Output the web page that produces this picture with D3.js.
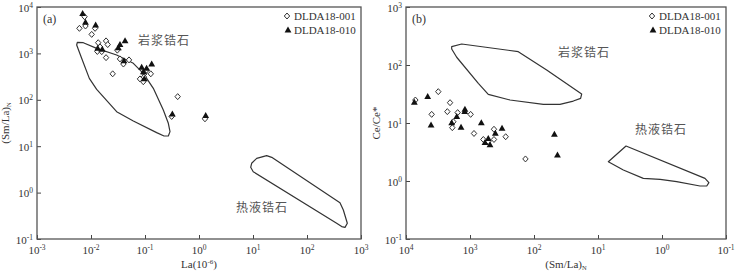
<!DOCTYPE html>
<html>
<head>
<meta charset="utf-8">
<script src="https://cdn.jsdelivr.net/npm/d3@7"></script>
<style>
  body { margin: 0; background: #fff; }
  svg { display: block; }
  text { font-family: "Liberation Serif", "DejaVu Serif", serif; fill: #333; }
  .cjk { font-family: "Noto Sans CJK SC", sans-serif; fill: #555; }
</style>
</head>
<body>
<script>
// ---- panel (a): La vs (Sm/La)N ----
var aSample001 = [[0.0061,3470],[0.0076,6170],[0.0079,3890],[0.0103,2570],[0.0119,3470],
  [0.0136,1700],[0.0147,1380],[0.0131,1100],[0.0158,1090],[0.019,1860],[0.0204,1550],
  [0.019,810],[0.0252,363],[0.0307,1175],[0.0344,760],[0.0398,590],[0.0506,724],
  [0.0807,282],[0.093,245],[0.097,363],[0.107,437],[0.128,363],[0.0955,309],
  [0.403,117],[0.312,43.7],[1.29,38.9]];
var aSample010 = [[0.0070,7240],[0.0079,4680],[0.0122,4070],[0.0133,1290],[0.0162,1230],
  [0.0321,1320],[0.0344,1550],[0.0427,1860],[0.0408,690],[0.0867,500],[0.0933,400],
  [0.107,479],[0.133,590],[0.097,282],[0.321,49],[1.33,45.7]];
var aMagmatic = [[0.00558,1734],[0.00721,1702],[0.01274,1285],[0.02985,925],[0.0608,611],
  [0.0931,372],[0.1426,177],[0.2183,60.3],[0.2704,31.1],[0.2904,20.6],[0.2704,16.6],
  [0.2249,16.6],[0.1644,19.6],[0.0608,34.9],[0.02985,55.5],[0.01274,168],[0.00931,290],
  [0.00671,783],[0.00543,1517]];
var aHydro = [[9.44,4.28],[11.7,5.48],[17.9,6.25],[22.2,5.75],[408,0.607],[471,0.422],
  [558,0.218],[506,0.178],[439,0.185],[354,0.218],[10.1,2.82],[9.06,3.51]];
var aXTicks = [1e-3,1e-2,1e-1,1e0,1e1,1e2,1e3];
var aXExp = ["-3","-2","-1","0","1","2","3"];
var aYTicks = [1e-1,1e0,1e1,1e2,1e3,1e4];
var aYExp = ["-1","0","1","2","3","4"];

// ---- panel (b): (Sm/La)N vs Ce/Ce* ----
var bSample001 = [[7140,24.9],[3970,14.1],[3130,34.7],[2260,15.7],[2050,22.4],[1890,8.3],
  [1820,10.5],[1560,15.1],[977,14.1],[866,6.6],[619,5.2],[518,4.8],[422,7.8],[422,5.2],
  [277,5.8],[136,2.4]];
var bSample010 = [[7410,22.7],[4580,28.4],[4060,9.2],[1930,10.1],[1610,12.9],[1380,8.4],
  [1200,17.2],[1210,15.8],[665,10.1],[583,4.6],[518,5.4],[487,4.2],[402,6.6],[316,8.1],
  [48,6.4],[43,2.8]];
var bMagmatic = [[1932,207],[1349,230],[176,170],[63.4,82],[18.0,31.6],[18.7,26.6],
  [24.3,23.9],[39.3,21.0],[71.4,21.0],[237,24.9],[518,31.2],[741,48.3],[1614,136],[1932,189]];
var bHydro = [[6.90,2.15],[3.65,4.01],[0.213,1.11],[0.185,0.936],[0.200,0.820],[0.255,0.820],
  [0.590,0.973],[1.07,1.07],[1.96,1.11],[4.02,1.55]];
var bXTicks = [1e4,1e3,1e2,1e1,1e0,1e-1];
var bXExp = ["4","3","2","1","0","-1"];
var bYTicks = [1e-1,1e0,1e1,1e2,1e3];
var bYExp = ["-1","0","1","2","3"];

var legendNames = ["DLDA18-001","DLDA18-010"];

var svg = d3.select("body").append("svg").attr("width",740).attr("height",276);

var diamond = "M0,-3 L2.7,0 L0,3 L-2.7,0Z";
var triangle = "M0,-3.6 L3.4,2.4 L-3.4,2.4Z";

function drawPanel(p)
{
  var g = svg.append("g");
  var x = d3.scaleLog().domain(p.xDomain).range([p.left, p.right]);
  var y = d3.scaleLog().domain(p.yDomain).range([p.bottom, p.top]);

  // x axis, ticks inward
  var xa = g.append("g").attr("transform","translate(0," + p.bottom + ")")
      .call(d3.axisBottom(x).tickValues(p.xTicks).tickSizeInner(-4).tickSizeOuter(0).tickFormat(""));
  xa.select(".domain").remove();
  xa.selectAll(".tick line").attr("stroke","#444");
  p.xTicks.forEach(function(v, i) {
    var t = g.append("text").attr("x", x(v)).attr("y", p.bottom + 15)
        .attr("text-anchor","middle").style("font-size","11px");
    t.append("tspan").text("10");
    t.append("tspan").attr("dy",-4).style("font-size","7.5px").text(p.xExp[i]);
  });

  var ya = g.append("g").attr("transform","translate(" + p.left + ",0)")
      .call(d3.axisLeft(y).tickValues(p.yTicks).tickSizeInner(-4).tickSizeOuter(0).tickFormat(""));
  ya.select(".domain").remove();
  ya.selectAll(".tick line").attr("stroke","#444");
  p.yTicks.forEach(function(v, i) {
    var t = g.append("text").attr("x", p.left - 4).attr("y", y(v) + 4.5)
        .attr("text-anchor","end").style("font-size","11px");
    t.append("tspan").text("10");
    t.append("tspan").attr("dy",-4).style("font-size","7.5px").text(p.yExp[i]);
  });

  // frame
  g.append("rect").attr("x",p.left).attr("y",p.top)
    .attr("width",p.right - p.left).attr("height",p.bottom - p.top)
    .attr("fill","none").attr("stroke","#555").attr("stroke-width",1.3);

  // fields
  var line = d3.line().x(function(d){ return x(d[0]); }).y(function(d){ return y(d[1]); })
      .curve(d3.curveLinearClosed);
  [p.magmatic, p.hydro].forEach(function(poly) {
    g.append("path").attr("d", line(poly)).attr("fill","none")
      .attr("stroke","#333").attr("stroke-width",1.2).attr("stroke-linejoin","round");
  });

  // points
  g.selectAll(".dia").data(p.s001).enter().append("path")
    .attr("d", diamond)
    .attr("transform", function(d){ return "translate(" + x(d[0]) + "," + y(d[1]) + ")"; })
    .attr("fill","#fff").attr("stroke","#333").attr("stroke-width",1);
  g.selectAll(".tri").data(p.s010).enter().append("path")
    .attr("d", triangle)
    .attr("transform", function(d){ return "translate(" + x(d[0]) + "," + y(d[1]) + ")"; })
    .attr("fill","#111");

  // panel letter
  g.append("text").attr("x", p.left + 6).attr("y", p.top + 16).style("font-size","12px").text(p.letter);

  // legend
  g.append("path").attr("d", diamond).attr("transform","translate(" + p.legX + "," + (p.top + 9) + ")")
    .attr("fill","#fff").attr("stroke","#333");
  g.append("path").attr("d", triangle).attr("transform","translate(" + (p.legX + 1) + "," + (p.top + 23) + ")")
    .attr("fill","#111");
  legendNames.forEach(function(n, i) {
    g.append("text").attr("x", p.legX + 7).attr("y", p.top + 13 + i * 14)
      .style("font-size","11px").text(n);
  });

  // field names
  p.fieldLabels.forEach(function(l) {
    g.append("text").attr("class","cjk").attr("x", l[0]).attr("y", l[1])
      .style("font-size","12px").style("letter-spacing","1px").text(l[2]);
  });

  // axis titles
  var xt = g.append("text").attr("x", (p.left + p.right) / 2).attr("y", p.bottom + 29)
      .attr("text-anchor","middle").style("font-size","11px");
  p.xTitle(xt);
  var yt = g.append("text").attr("transform","translate(" + p.yTitleX + "," + ((p.top + p.bottom) / 2) + ") rotate(-90)")
      .attr("text-anchor","middle").style("font-size","11px");
  p.yTitle(yt);
}

function smLaTitle(t)
{
  t.append("tspan").text("(Sm/La)");
  t.append("tspan").attr("dy",2).style("font-size","6.5px").text("N");
}

drawPanel({
  left: 37, right: 361, top: 7, bottom: 239,
  xDomain: [1e-3, 1e3], yDomain: [1e-1, 1e4],
  xTicks: aXTicks, xExp: aXExp, yTicks: aYTicks, yExp: aYExp,
  magmatic: aMagmatic, hydro: aHydro, s001: aSample001, s010: aSample010,
  letter: "(a)", legX: 287,
  fieldLabels: [[138, 45, "岩浆锆石"], [236, 212, "热液锆石"]],
  xTitle: function(t) {
    t.append("tspan").text("La(10");
    t.append("tspan").attr("dy",-4).style("font-size","7px").text("-6");
    t.append("tspan").attr("dy",4).text(")");
  },
  yTitle: smLaTitle, yTitleX: 9
});

drawPanel({
  left: 406, right: 726, top: 7, bottom: 239,
  xDomain: [1e4, 1e-1], yDomain: [1e-1, 1e3],
  xTicks: bXTicks, xExp: bXExp, yTicks: bYTicks, yExp: bYExp,
  magmatic: bMagmatic, hydro: bHydro, s001: bSample001, s010: bSample010,
  letter: "(b)", legX: 652,
  fieldLabels: [[558, 57, "岩浆锆石"], [635, 134, "热液锆石"]],
  xTitle: function(t) { smLaTitle(t); },
  yTitle: function(t) { t.text("Ce/Ce*"); }, yTitleX: 380
});
</script>
</body>
</html>
